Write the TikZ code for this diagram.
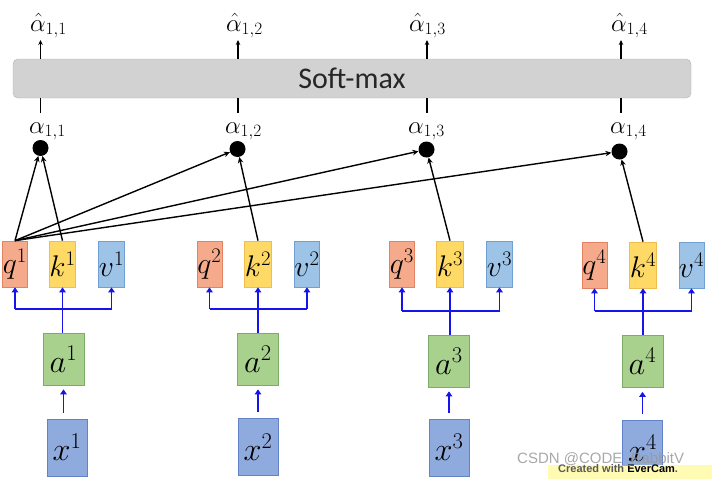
\documentclass[tikz,border=0pt]{standalone}
\usepackage{graphicx}
\usepackage{fontspec}
\newfontfamily\carlito{Carlito}
\newfontfamily\libsans{Liberation Sans}
\usetikzlibrary{arrows.meta}
\definecolor{qfill}{RGB}{246,170,140}
\definecolor{qdraw}{RGB}{228,130,100}
\definecolor{kfill}{RGB}{255,217,102}
\definecolor{kdraw}{RGB}{238,190,80}
\definecolor{vfill}{RGB}{157,195,230}
\definecolor{vdraw}{RGB}{112,160,210}
\definecolor{afill}{RGB}{169,209,142}
\definecolor{adraw}{RGB}{125,172,105}
\definecolor{xfill}{RGB}{143,170,220}
\definecolor{xdraw}{RGB}{100,130,200}
\definecolor{bluearrow}{RGB}{20,20,235}
\newcommand{\mylabelscaled}[2]{\scalebox{#1}{$#2$}}
\begin{document}
\begin{tikzpicture}[x=1pt,y=-1pt,
  box/.style={draw, line width=0.7pt, inner sep=0pt, font=\fontsize{24}{28}\selectfont},
  qbox/.style={box, fill=qfill, draw=qdraw, minimum width=25pt, minimum height=46pt},
  kbox/.style={box, fill=kfill, draw=kdraw, minimum width=25pt, minimum height=46pt},
  vbox/.style={box, fill=vfill, draw=vdraw, minimum width=25pt, minimum height=46pt},
  abox/.style={box, fill=afill, draw=adraw, minimum width=41pt, minimum height=52pt},
  xbox/.style={box, fill=xfill, draw=xdraw, minimum width=40pt, minimum height=57pt},
  bl/.style={draw=bluearrow, line width=1.8pt},
  bla/.style={bl, -{Triangle[length=5pt,width=6.5pt]}},
  blk/.style={draw=black, line width=1.4pt, -{Stealth[length=6pt,width=5.5pt]}},
  dotnode/.style={circle, fill=black, minimum size=16pt, inner sep=0pt},
  alab/.style={anchor=base west, inner sep=0pt, font=\fontsize{24}{28}\selectfont},
  tick/.style={draw=black, line width=1.3pt},
  ticka/.style={tick, -{Stealth[length=5pt,width=4.5pt]}}
]
\useasboundingbox (0,0) rectangle (712,479);

% soft-max bar
\node[draw=gray!60, fill=gray!35, rounded corners=5pt, minimum width=678pt,
      minimum height=39pt, inner sep=0pt] (bar) at (352,78.5)
      {\carlito\fontsize{30}{34}\selectfont\color{black!85}Soft-max};

% columns
\foreach \i/\qx/\kx/\vx/\qy/\ax/\ay/\xx/\xy/\cx/\lx in {
  1/15/62.5/111.5/264/63.5/359/67/447.5/40.5/29,
  2/209.5/258/307/264/258/359/258/447/238/225,
  3/402/450/499.5/264/449/361/449/447.5/427/408,
  4/594.5/643/691.5/265/642.5/361.5/642.5/448.5/621/610}{
  \node[qbox] (q\i) at (\qx,\qy) {\mylabelscaled{1.2}{q^{\i}}};
  \node[kbox] (k\i) at (\kx,\qy) {\mylabelscaled{1.2}{k^{\i}}};
  \node[vbox] (v\i) at (\vx,\qy) {\mylabelscaled{1.2}{v^{\i}}};
  \node[abox] (a\i) at (\ax,\ay) {\mylabelscaled{1.3}{a^{\i}}};
  \node[xbox] (x\i) at (\xx,\xy) {\mylabelscaled{1.3}{x^{\i}}};
  % blue connectors
  \path (a\i.north) ++(0,-24) coordinate (m\i);
  \draw[bla] (a\i.north -| k\i) -- (k\i.south);
  \draw[bl] (q\i.south |- m\i) -- (v\i.south |- m\i);
  \draw[bla] (q\i.south |- m\i) -- (q\i.south);
  \draw[bla] (v\i.south |- m\i) -- (v\i.south);
  \draw[bla, shorten <=6pt, shorten >=4pt] (x\i.north -| a\i) -- (a\i.south);
  % ticks and labels
  \coordinate (tl\i) at (\cx,113);
  \coordinate (th\i) at (\cx,40);
  \draw[tick] (tl\i |- bar.south) -- (tl\i);
  \draw[ticka] (th\i |- bar.north) -- (th\i);
  \node[alab] (al\i) at (\lx,133) {$\alpha_{1,\i}$};
  \node[alab] (ah\i) at (\lx+1,31) {$\hat{\alpha}_{1,\i}$};
}

% dots
\node[dotnode] (d1) at (40.5,148) {};
\node[dotnode] (d2) at (237.5,149) {};
\node[dotnode] (d3) at (426.5,149.5) {};
\node[dotnode] (d4) at (619.5,151.5) {};

% black connectors
\foreach \i in {1,2,3,4}{
  \draw[blk] (q1.north) -- (d\i);
  \draw[blk] (k\i.north) -- (d\i);
}

% watermark overlay
\fill[yellow!30] (548,465) rectangle (712,479);
\node[anchor=west, inner sep=0pt, font=\libsans\bfseries\fontsize{11}{12}\selectfont, text=black!65] (ev) at (558,468.5) {Created with \textcolor{black}{EverCam}.};
\node[anchor=west, inner sep=0pt, font=\libsans\fontsize{15}{17}\selectfont, text=gray!80, opacity=0.85] (wm) at (517,460) {CSDN @CODE\_RabbitV};
\end{tikzpicture}
\end{document}
